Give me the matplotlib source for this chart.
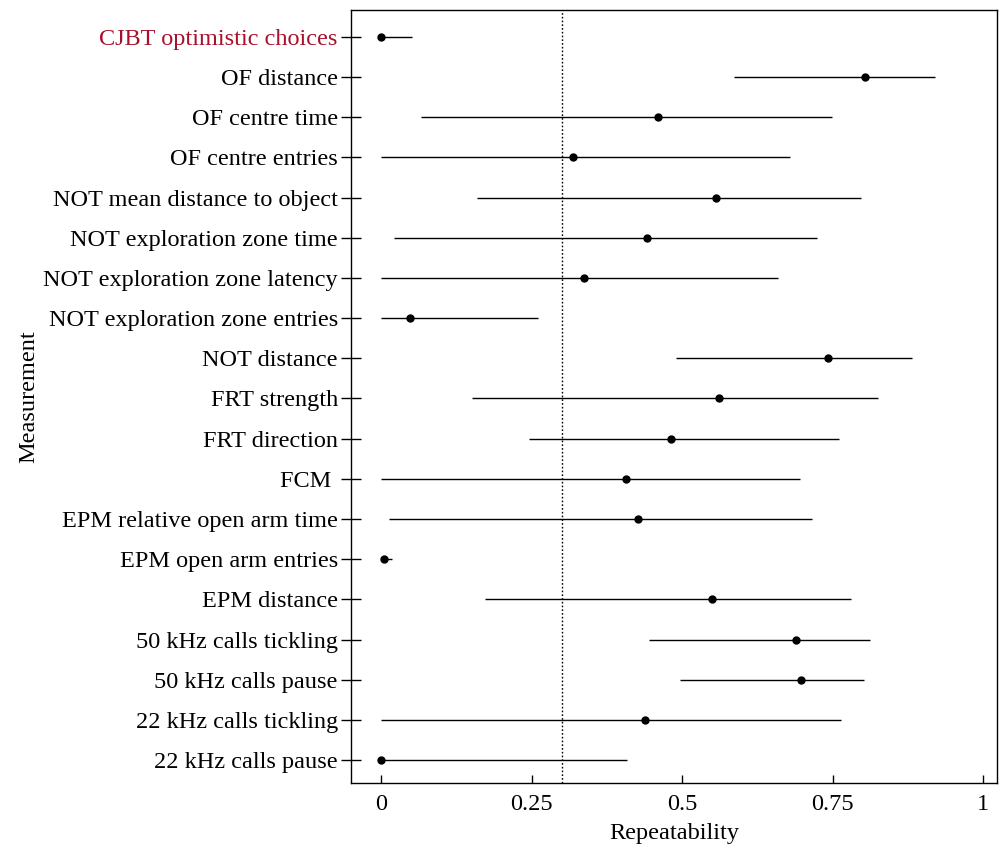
import numpy as np
import matplotlib.pyplot as plt

# measurements, top to bottom
labels = ['CJBT optimistic choices', 'OF distance', 'OF centre time', 'OF centre entries',
          'NOT mean distance to object', 'NOT exploration zone time',
          'NOT exploration zone latency', 'NOT exploration zone entries', 'NOT distance',
          'FRT strength', 'FRT direction', 'FCM ', 'EPM relative open arm time',
          'EPM open arm entries', 'EPM distance', '50 kHz calls tickling',
          '50 kHz calls pause', '22 kHz calls tickling', '22 kHz calls pause']
repeat = [0.0, 0.804, 0.460, 0.319, 0.556, 0.442, 0.337, 0.048, 0.743,
          0.561, 0.482, 0.407, 0.427, 0.005, 0.550, 0.689, 0.698, 0.439, 0.0]
ci_low = [0.0, 0.586, 0.066, 0.0, 0.159, 0.022, 0.0, 0.0, 0.490,
          0.151, 0.246, 0.0, 0.013, 0.0, 0.173, 0.445, 0.497, 0.0, 0.0]
ci_high = [0.052, 0.920, 0.749, 0.679, 0.797, 0.724, 0.659, 0.261, 0.882,
           0.826, 0.761, 0.696, 0.716, 0.018, 0.781, 0.812, 0.802, 0.764, 0.409]
threshold = 0.3

plt.rcParams['font.family'] = ['Liberation Serif', 'DejaVu Serif']

fig = plt.figure(figsize=(10, 8.47), dpi=100)
ax = fig.add_axes([0.351, 0.0756, 0.646, 0.9126])

y = np.arange(len(labels))[::-1]
ax.hlines(y, ci_low, ci_high, color='k', linewidth=1)
ax.plot(repeat, y, 'o', color='k', markersize=5)
ax.axvline(threshold, color='k', linestyle=(0, (1.2, 1.5)), linewidth=1)

ax.set_xlim(-0.05, 1.023)
ax.set_ylim(-0.57, len(labels) - 1 + 0.67)
ax.set_xticks([0, 0.25, 0.5, 0.75, 1])
ax.set_xticklabels(['0', '0.25', '0.5', '0.75', '1'])
ax.set_yticks(y)
ax.set_yticklabels(labels)
ax.get_yticklabels()[0].set_color('#a8102c')

ax.tick_params(axis='y', direction='inout', length=15, width=1, labelsize=17.5, pad=2)
ax.tick_params(axis='x', direction='in', length=6, width=1, labelsize=17.5, pad=8)
for s in ax.spines.values():
    s.set_linewidth(1)

ax.set_xlabel('Repeatability', fontsize=17.5, labelpad=6)
ax.set_ylabel('Measurement', fontsize=17.5, labelpad=3)

fig.savefig('out.png', dpi=100)
